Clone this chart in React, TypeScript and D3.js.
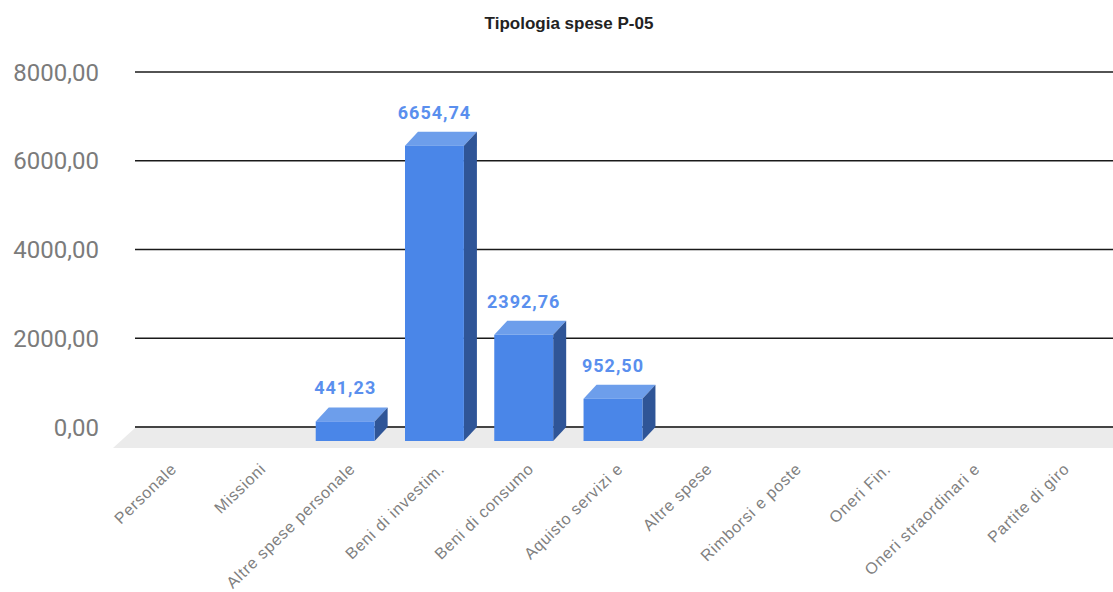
import { useEffect } from 'react'
import * as d3 from 'd3'

const WIDTH = 1113
const HEIGHT = 592

const TITLE = 'Tipologia spese P-05'

const categories = [
  'Personale',
  'Missioni',
  'Altre spese personale',
  'Beni di investim.',
  'Beni di consumo',
  'Aquisto servizi e',
  'Altre spese',
  'Rimborsi e poste',
  'Oneri Fin.',
  'Oneri straordinari e',
  'Partite di giro',
]

const values = [0, 0, 441.23, 6654.74, 2392.76, 952.5, 0, 0, 0, 0, 0]

const yTicks = [0, 2000, 4000, 6000, 8000]

// 3D offset of the back face relative to the front face
const DX = 13
const DY = 14

const fmt = (v: number) => v.toFixed(2).replace('.', ',')

export default function App() {
  useEffect(() => {
    document.body.style.margin = '0'
  }, [])

  // back wall coordinates
  const y = d3.scaleLinear().domain([0, 8000]).range([427, 72])
  // front plane band scale
  const x = d3
    .scaleBand<string>()
    .domain(categories)
    .range([122, 1104])
    .paddingInner(0.34)
    .paddingOuter(0.17)

  const baseBack = y(0)
  const baseFront = baseBack + DY
  const bw = x.bandwidth()

  return (
    <svg width={WIDTH} height={HEIGHT} style={{ display: 'block', background: '#fff' }}>
      <text
        x={569}
        y={29}
        textAnchor="middle"
        fontFamily="Liberation Sans, Arial, sans-serif"
        fontWeight="bold"
        fontSize={17}
        fill="#222"
      >
        {TITLE}
      </text>

      {/* floor */}
      <polygon
        points={`135,${baseBack + 1} 1135,${baseBack + 1} 1113,448 113,448`}
        fill="#ebebeb"
      />

      {/* gridlines */}
      {yTicks.map((t) => (
        <g key={t}>
          <line
            x1={135}
            x2={WIDTH}
            y1={y(t)}
            y2={y(t)}
            stroke={t === 0 ? '#444' : '#1a1a1a'}
            strokeWidth={t === 0 ? 2 : 1.6}
          />
          <text
            x={99}
            y={y(t)}
            dy="0.36em"
            textAnchor="end"
            fontFamily="Roboto, sans-serif"
            fontSize={24}
            fill="#7b7b7b"
          >
            {fmt(t)}
          </text>
        </g>
      ))}

      {/* bars */}
      {categories.map((c, i) => {
        const v = values[i]
        if (!v) return null
        const x0 = x(c)!
        const x1 = x0 + bw
        const topBack = y(v)
        const topFront = topBack + DY
        return (
          <g key={c}>
            <polygon
              points={`${x0},${topFront} ${x0 + DX},${topBack} ${x1 + DX},${topBack} ${x1},${topFront}`}
              fill="#6d9eeb"
            />
            <polygon
              points={`${x1},${topFront} ${x1 + DX},${topBack} ${x1 + DX},${baseBack} ${x1},${baseFront}`}
              fill="#2f5597"
            />
            <rect x={x0} y={topFront} width={bw} height={baseFront - topFront} fill="#4a86e8" />
            <text
              x={x0 + bw / 2}
              y={topBack - 13}
              textAnchor="middle"
              fontFamily="Roboto, sans-serif"
              fontWeight="bold"
              fontSize={18}
              letterSpacing={1}
              fill="#5a8fee"
            >
              {fmt(v)}
            </text>
          </g>
        )
      })}

      {/* category labels */}
      {categories.map((c) => {
        const cx = x(c)! + bw / 2 + 11
        const cy = 470
        return (
          <text
            key={c}
            transform={`translate(${cx},${cy}) rotate(-44)`}
            textAnchor="end"
            fontFamily="Liberation Sans, Arial, sans-serif"
            fontSize={16}
            letterSpacing={0.8}
            fill="#808080"
          >
            {c}
          </text>
        )
      })}
    </svg>
  )
}
